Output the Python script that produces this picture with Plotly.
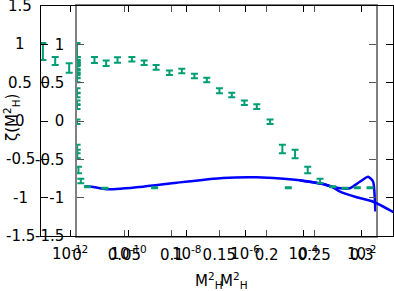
import plotly.graph_objects as go

# ---------------- data ----------------
# zeta(M_H^2) points, shared by both panels
zeta = [0.906, 0.783, 0.691, 0.796, 0.753, 0.796, 0.805, 0.760, 0.700, 0.630,
        0.652, 0.587, 0.535, 0.395, 0.339, 0.239, 0.187, -0.009, -0.365, -0.430,
        -0.639, -0.783, -0.857, -0.878, -0.870, -0.870]
zeta_err = [0.11, 0.052, 0.063, 0.04, 0.035, 0.035, 0.03, 0.03, 0.03, 0.03,
            0.03, 0.03, 0.03, 0.033, 0.03, 0.03, 0.03, 0.03, 0.055, 0.055,
            0.043, 0.03, 0.006, 0.006, 0.006, 0.006]
# M_H^2 positions as read on the logarithmic panel
m2_log = [1.16e-13, 3.07e-13, 9.27e-13, 6.82e-12, 1.72e-11, 4.20e-11, 1.31e-10,
          3.45e-10, 8.89e-10, 2.54e-9, 6.76e-9, 1.83e-8, 4.86e-8, 1.32e-7,
          3.50e-7, 9.46e-7, 2.52e-6, 7.21e-6, 1.90e-5, 5.19e-5, 1.41e-4,
          3.73e-4, 1.02e-3, 2.69e-3, 7.08e-3, 1.93e-2]
# M_H^2 positions as read on the linear panel
m2_lin = [0.0, 0.0, 0.0, 0.0, 0.0, 0.0, 0.0, 0.0, 0.0, 0.0,
          0.0, 0.0, 0.0, 0.0, 0.0, 0.0, 0.0, 0.00003, 0.0001, 0.0003,
          0.0015, 0.004, 0.011, 0.0294, 0.0818, 0.2228]

# fitted curve on the linear panel
fit_lin_x = [0.0083, 0.0154, 0.0312, 0.0695, 0.105, 0.1538, 0.1893, 0.2244,
             0.2592, 0.2697, 0.2876, 0.2982, 0.3069, 0.3122, 0.314, 0.3145]
fit_lin_y = [-0.85, -0.857, -0.891, -0.857, -0.805, -0.743, -0.734, -0.760,
             -0.822, -0.861, -0.878, -0.792, -0.727, -0.792, -1.03, -1.18]
# fitted curve on the log panel
fit_log_x = [7.7e-5, 4.73e-4, 1.04e-3, 1.81e-3, 6.76e-3, 2.51e-2, 1.28e-1]
fit_log_y = [-0.775, -0.822, -0.866, -0.922, -0.995, -1.053, -1.192]

y_ticks = [-1.5, -1, -0.5, 0, 0.5, 1, 1.5]
y_tick_text = ["-1.5", "-1", "-0.5", "0", "0.5", "1", "1.5"]
lin_ticks = [0, 0.05, 0.1, 0.15, 0.2, 0.25, 0.3]
lin_tick_text = ["0", "0.05", "0.1", "0.15", "0.2", "0.25", "0.3"]
log_ticks = [1e-12, 1e-10, 1e-8, 1e-6, 1e-4, 1e-2]
log_tick_text = ["10<sup>-12</sup>", "10<sup>-10</sup>", "10<sup>-8</sup>",
                 "10<sup>-6</sup>", "10<sup>-4</sup>", "10<sup>-2</sup>"]

x_title = "M<sup>2</sup><sub>H</sub>"
y_title = "ζ(M<sup>2</sup><sub>H</sub>)"

GREEN = "#009e73"
BLUE = "#0000ff"
FONT = dict(family="DejaVu Sans", size=15, color="black")

fig = go.Figure()

# linear panel (drawn first, underneath)
fig.add_trace(go.Scatter(x=fit_lin_x, y=fit_lin_y, mode="lines",
                         line=dict(color=BLUE, width=2.5, shape="spline", smoothing=0.6),
                         xaxis="x", yaxis="y", showlegend=False, hoverinfo="skip"))
fig.add_trace(go.Scatter(x=m2_lin, y=zeta, mode="markers",
                         marker=dict(size=1, color=GREEN, opacity=0),
                         error_y=dict(type="data", array=zeta_err, color=GREEN,
                                      thickness=2, width=3.5),
                         xaxis="x", yaxis="y", showlegend=False))
# log panel (on top)
fig.add_trace(go.Scatter(x=fit_log_x, y=fit_log_y, mode="lines",
                         line=dict(color=BLUE, width=2.5, shape="spline", smoothing=0.6),
                         xaxis="x2", yaxis="y2", showlegend=False, hoverinfo="skip"))
fig.add_trace(go.Scatter(x=m2_log, y=zeta, mode="markers",
                         marker=dict(size=1, color=GREEN, opacity=0),
                         error_y=dict(type="data", array=zeta_err, color=GREEN,
                                      thickness=2, width=3.5),
                         xaxis="x2", yaxis="y2", showlegend=False))

L, R, T, B = 41, 1, 6, 55
W, H = 394, 291
pw = W - L - R
ph = H - T - B

def px2paper_x(px):
    return (px - L) / pw

def px2paper_y(py):
    return 1 - (py - T) / ph

annotations = []
for v, t in zip(y_ticks, y_tick_text):
    annotations.append(dict(x=px2paper_x(20), xref="paper", y=v, yref="y2",
                            text=t, showarrow=False, xanchor="center",
                            yanchor="middle", font=FONT))
annotations.append(dict(x=px2paper_x(11), xref="paper", y=px2paper_y(118), yref="paper",
                        text=y_title, textangle=-90, showarrow=False,
                        xanchor="center", yanchor="middle", font=FONT))
for cx in (208.5, 233.5):
    annotations.append(dict(x=px2paper_x(cx), xref="paper", y=px2paper_y(280), yref="paper",
                            text=x_title, showarrow=False, xanchor="center",
                            yanchor="middle", font=FONT))

fig.update_layout(
    width=W, height=H,
    margin=dict(l=L, r=R, t=T, b=B, pad=0),
    paper_bgcolor="white", plot_bgcolor="rgba(0,0,0,0)",
    font=FONT,
    annotations=annotations,
    xaxis=dict(domain=[px2paper_x(77), px2paper_x(376)], range=[0, 0.3152],
               anchor="y", tickvals=lin_ticks, ticktext=lin_tick_text,
               ticks="inside", ticklen=6, tickcolor="#555555", tickwidth=1,
               showline=True, linecolor="#808080", linewidth=1.5, mirror="allticks",
               showgrid=False, zeroline=False, ticklabelstandoff=4,
               tickfont=FONT),
    yaxis=dict(domain=[0, 1], range=[-1.5, 1.5], anchor="x",
               tickvals=y_ticks, ticktext=y_tick_text,
               ticks="inside", ticklen=7, tickcolor="#555555", tickwidth=1,
               showline=True, linecolor="#808080", linewidth=1.5, mirror="allticks",
               showgrid=False, zeroline=False, ticklabelstandoff=8,
               tickfont=FONT),
    xaxis2=dict(domain=[0, 1], type="log", range=[-13, -0.926], anchor="y2",
                tickvals=log_ticks, ticktext=log_tick_text,
                ticks="inside", ticklen=6, tickcolor="black", tickwidth=1,
                showline=True, linecolor="black", linewidth=1, mirror="allticks",
                showgrid=False, zeroline=False, ticklabelstandoff=4,
                tickfont=FONT),
    yaxis2=dict(domain=[0, 1], range=[-1.5, 1.5], anchor="x2",
                tickvals=y_ticks, showticklabels=False,
                ticks="inside", ticklen=7, tickcolor="black", tickwidth=1,
                showline=True, linecolor="black", linewidth=1, mirror="allticks",
                showgrid=False, zeroline=False),
)

fig.write_html("out.html", config={"displayModeBar": False},
               post_script="document.body.style.margin='0px';")
